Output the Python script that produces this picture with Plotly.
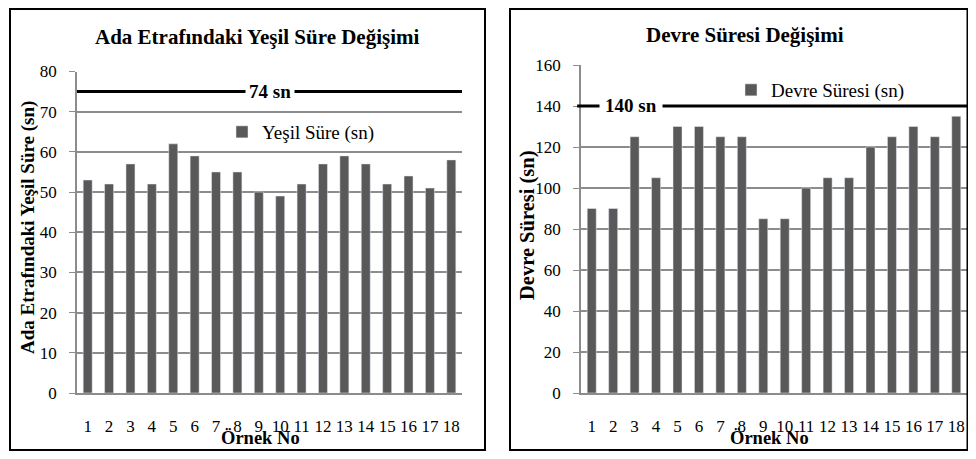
import plotly.graph_objects as go

# Page has an 8px body margin; figure sized to fit the 976x459 window exactly.
OFF = 8
W, H = 976 - 2 * OFF, 459 - 2 * OFF

categories = [str(i) for i in range(1, 19)]
yesil_sure = [53, 52, 57, 52, 62, 59, 55, 55, 50, 49, 52, 57, 59, 57, 52, 54, 51, 58]
devre_suresi = [90, 90, 125, 105, 130, 130, 125, 125, 85, 85, 100, 105, 105, 120, 125, 130, 125, 135]
yesil_limit = 75
yesil_limit_label = "74 sn"
devre_limit = 140
devre_limit_label = "140 sn"

FONT = "Liberation Serif"
BAR = "#595959"
GRID = "#8c8c8c"

def px(x):
    return (x - OFF) / W

def py(y):
    return 1 - (y - OFF) / H

fig = go.Figure()
fig.add_trace(go.Bar(x=categories, y=yesil_sure, name="Yeşil Süre (sn)", marker_color=BAR,
                     xaxis="x", yaxis="y", legend="legend"))
fig.add_trace(go.Bar(x=categories, y=devre_suresi, name="Devre Süresi (sn)", marker_color=BAR,
                     xaxis="x2", yaxis="y2", legend="legend2"))

ax_common = dict(showgrid=False, showline=True, linecolor=GRID, linewidth=1.5,
                 ticks="outside", ticklen=17, tickcolor="rgba(0,0,0,0)", automargin=False,
                 tickfont=dict(family=FONT, size=17, color="black"), fixedrange=True)
ay_common = dict(showgrid=True, gridcolor=GRID, gridwidth=1.5, showline=True, linecolor=GRID,
                 linewidth=1.5, ticks="outside", ticklen=6, tickcolor=GRID, automargin=False,
                 ticklabelstandoff=9,
                 tickfont=dict(family=FONT, size=17, color="black"), zeroline=False, fixedrange=True)

y0 = py(393)
fig.update_layout(
    width=W, height=H, margin=dict(l=0, r=0, t=0, b=0, autoexpand=False),
    paper_bgcolor="white", plot_bgcolor="white",
    bargap=0.58, showlegend=True,
    xaxis=dict(domain=[px(77), px(462)], anchor="y", **ax_common),
    yaxis=dict(domain=[y0, py(71.5)], range=[0, 80], dtick=10, anchor="x", **ay_common),
    xaxis2=dict(domain=[px(581), px(967)], anchor="y2", **ax_common),
    yaxis2=dict(domain=[y0, py(65)], range=[0, 160], dtick=20, anchor="x2", **ay_common),
    legend=dict(x=px(222), y=py(132), xanchor="left", yanchor="middle", bgcolor="rgba(0,0,0,0)",
                font=dict(family=FONT, size=19, color="black"), itemwidth=30, tracegroupgap=0),
    legend2=dict(x=px(731), y=py(90), xanchor="left", yanchor="middle", bgcolor="rgba(0,0,0,0)",
                 font=dict(family=FONT, size=19, color="black"), itemwidth=30, tracegroupgap=0),
)

shapes = [
    dict(type="rect", xref="paper", yref="paper", x0=px(10), x1=px(485), y0=py(450), y1=py(9),
         line=dict(color="black", width=2)),
    dict(type="rect", xref="paper", yref="paper", x0=px(510), x1=px(967.5), y0=py(450), y1=py(9),
         line=dict(color="black", width=2)),
    dict(type="line", xref="x domain", yref="y", x0=0, x1=1, y0=yesil_limit, y1=yesil_limit,
         line=dict(color="black", width=3)),
    dict(type="line", xref="x2 domain", yref="y2", x0=-0.01, x1=1.0, y0=devre_limit, y1=devre_limit,
         line=dict(color="black", width=3)),
]
fig.update_layout(shapes=shapes)

def ann(text, x, y, size, yref="paper", angle=0, bg=None, pad=1):
    d = dict(text=text, xref="paper", yref=yref, x=x, y=y, xanchor="center", yanchor="middle",
             showarrow=False, textangle=angle, borderpad=pad,
             font=dict(family=FONT, size=size, color="black"))
    if bg:
        d["bgcolor"] = bg
    return d

annotations = [
    ann("<b>Ada Etrafındaki Yeşil Süre Değişimi</b>", px(257), py(37), 21),
    ann("<b>Devre Süresi Değişimi</b>", px(745), py(35), 21),
    ann("<b>Örnek No</b>", px(260), py(438), 18.5),
    ann("<b>Örnek No</b>", px(769), py(438), 18.5),
    ann("<b>Ada Etrafındaki Yeşil Süre (sn)</b>", px(28), py(228), 19, angle=-90),
    ann("<b>Devre Süresi (sn)</b>", px(527), py(225), 20.5, angle=-90),
    ann("<b>" + yesil_limit_label + "</b>", px(270), yesil_limit, 19, yref="y", bg="white", pad=3),
    ann("<b>" + devre_limit_label + "</b>", px(631), devre_limit, 19, yref="y2", bg="white", pad=5),
]
fig.update_layout(annotations=annotations)

fig.write_html("out.html")
